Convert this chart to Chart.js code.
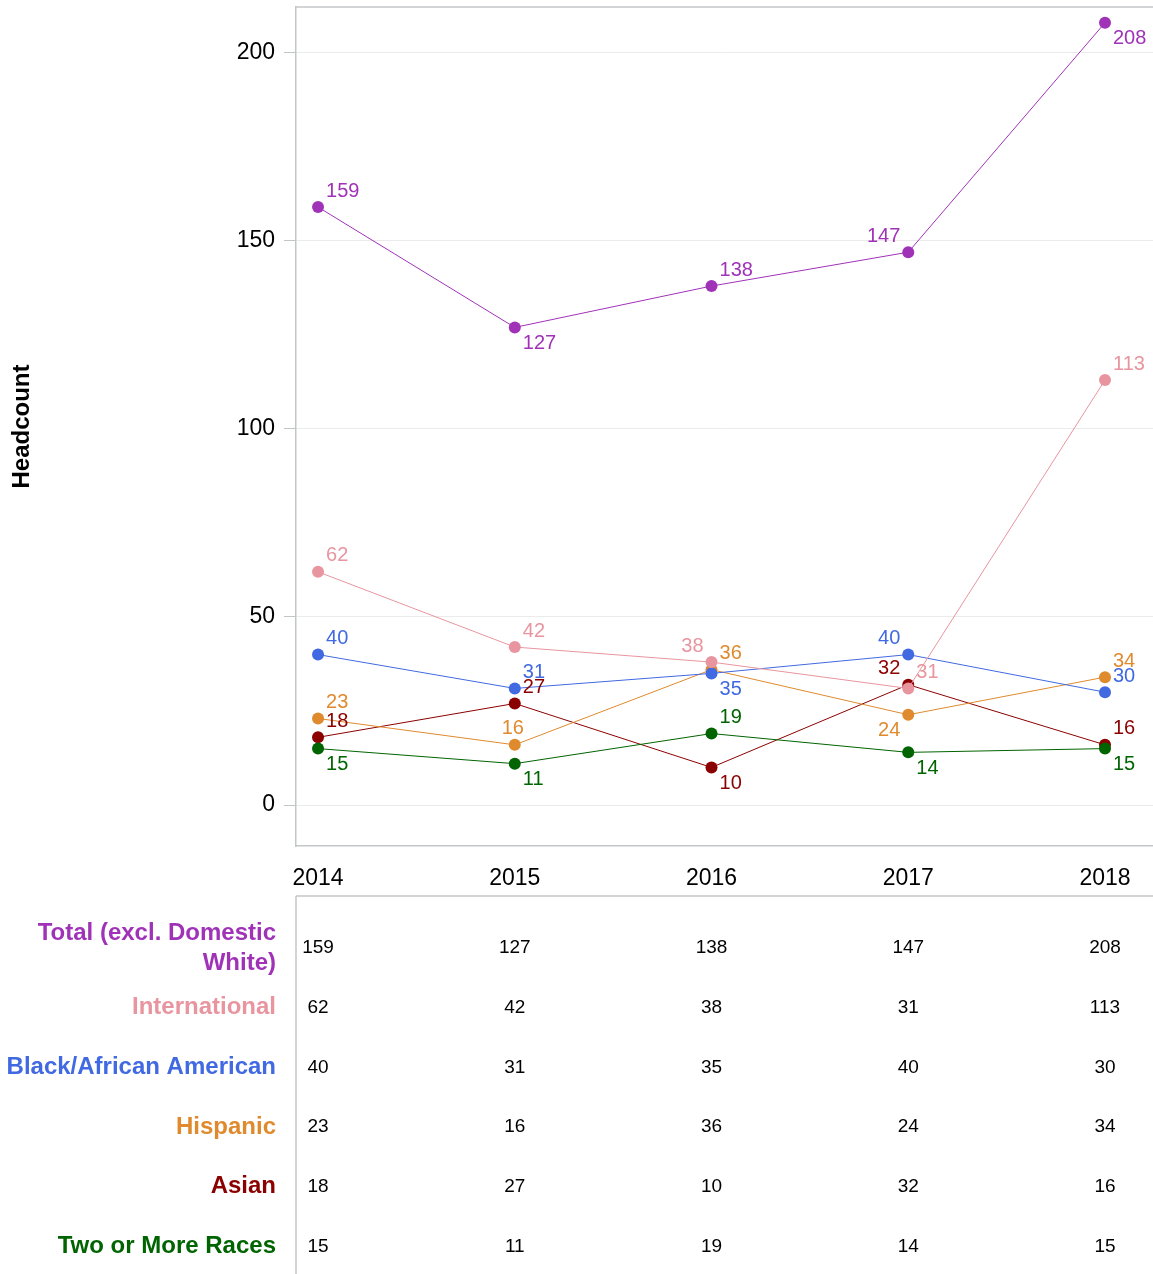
<!DOCTYPE html>
<html>
<head>
<meta charset="utf-8">
<script src="https://cdn.jsdelivr.net/npm/chart.js@4.4.1/dist/chart.umd.min.js"></script>
<style>
  html, body { margin: 0; padding: 0; background: #fff; }
  #wrap { width: 1153px; height: 1274px; }
</style>
</head>
<body>
<div id="wrap"><canvas id="chart" width="1153" height="1274"></canvas></div>
<script>
const years = [2014, 2015, 2016, 2017, 2018];
const seriesNames = ['Total (excl. Domestic White)', 'International', 'Black/African American', 'Hispanic', 'Asian', 'Two or More Races'];
const totalVals = [159, 127, 138, 147, 208];
const internationalVals = [62, 42, 38, 31, 113];
const blackVals = [40, 31, 35, 40, 30];
const hispanicVals = [23, 16, 36, 24, 34];
const asianVals = [18, 27, 10, 32, 16];
const twoMoreVals = [15, 11, 19, 14, 15];

const seriesVals = [totalVals, internationalVals, blackVals, hispanicVals, asianVals, twoMoreVals];
const colors = ['#a032b8', '#e8959f', '#4169e1', '#e08a2e', '#8b0000', '#006400'];
const drawOrder = [0, 1, 2, 3, 5, 4];

// where each value label sits next to its point (u = up, d = down, r/l = side)
const labelSpots = [
  ['ur', 'dr', 'ur', 'ul', 'dr'],
  ['ur', 'ur', 'ul', 'ur', 'ur'],
  ['ur', 'ur', 'dr', 'ul', 'ur'],
  ['ur', 'u', 'ur', 'dl', 'ur'],
  ['ur', 'ur', 'dr', 'ul', 'ur'],
  ['dr', 'dr', 'ur', 'dr', 'dr']
];

const FONT = "'Liberation Sans', Arial, sans-serif";
const axisGray = '#c3c6c8';

const datasets = seriesNames.map((name, i) => ({
  label: name,
  data: seriesVals[i].map((v, j) => ({ x: years[j], y: v })),
  borderColor: colors[i],
  backgroundColor: colors[i],
  pointBackgroundColor: colors[i],
  pointBorderWidth: 0,
  pointRadius: 6,
  borderWidth: 1,
  order: drawOrder[i]
}));

const valueLabels = {
  id: 'valueLabels',
  afterDatasetsDraw(chart) {
    const ctx = chart.ctx;
    ctx.save();
    ctx.font = '20px ' + FONT;
    ctx.textBaseline = 'middle';
    chart.data.datasets.forEach((ds, i) => {
      const meta = chart.getDatasetMeta(i);
      meta.data.forEach((pt, j) => {
        const spot = labelSpots[i][j];
        let x = pt.x, y = pt.y;
        if (spot[0] === 'u') y -= 16; else y += 16;
        if (spot[1] === 'r') { ctx.textAlign = 'left'; x += 8; }
        else if (spot[1] === 'l') { ctx.textAlign = 'right'; x -= 8; }
        else { ctx.textAlign = 'center'; x -= 2; }
        ctx.fillStyle = colors[i];
        ctx.fillText(String(seriesVals[i][j]), x, y);
      });
    });
    ctx.restore();
  }
};

function wrapText(ctx, text, maxW) {
  const words = text.split(' ');
  const lines = [];
  let cur = '';
  words.forEach(w => {
    const t = cur ? cur + ' ' + w : w;
    if (ctx.measureText(t).width > maxW && cur) { lines.push(cur); cur = w; }
    else cur = t;
  });
  lines.push(cur);
  return lines;
}

const dataTable = {
  id: 'dataTable',
  afterDraw(chart) {
    const ctx = chart.ctx;
    const xs = chart.scales.x;
    const area = chart.chartArea;
    const tableTop = 896;
    ctx.save();
    // frame lines
    ctx.strokeStyle = axisGray;
    ctx.lineWidth = 1.5;
    ctx.beginPath();
    ctx.moveTo(area.left, tableTop);
    ctx.lineTo(chart.width, tableTop);
    ctx.moveTo(area.left, tableTop);
    ctx.lineTo(area.left, chart.height);
    ctx.moveTo(area.left, area.top);
    ctx.lineTo(chart.width, area.top);
    ctx.stroke();

    ctx.textBaseline = 'middle';
    seriesNames.forEach((name, i) => {
      const cy = 948 + i * 59.7;
      ctx.font = 'bold 24px ' + FONT;
      ctx.fillStyle = colors[i];
      ctx.textAlign = 'right';
      const lines = wrapText(ctx, name, 272);
      lines.forEach((ln, k) => {
        ctx.fillText(ln, 276, cy + (k - (lines.length - 1) / 2) * 30);
      });
      ctx.font = '19px ' + FONT;
      ctx.fillStyle = '#000';
      ctx.textAlign = 'center';
      seriesVals[i].forEach((v, j) => {
        ctx.fillText(String(v), xs.getPixelForValue(years[j]), cy);
      });
    });
    ctx.restore();
  }
};

new Chart(document.getElementById('chart'), {
  type: 'line',
  data: { datasets },
  options: {
    responsive: false,
    devicePixelRatio: 1,
    animation: false,
    events: [],
    layout: { autoPadding: false, padding: { top: 7, right: 0, bottom: 0, left: 0 } },
    plugins: { legend: { display: false }, tooltip: { enabled: false } },
    scales: {
      x: {
        type: 'linear',
        min: 2013.888,
        max: 2018.244,
        afterFit(scale) {
          scale.height = 428;
          scale.paddingLeft = 0;
          scale.paddingRight = 0;
        },
        grid: { display: false, drawTicks: false },
        border: { display: true, color: axisGray, width: 1.5 },
        ticks: {
          stepSize: 1,
          includeBounds: false,
          autoSkip: false,
          maxRotation: 0,
          padding: 19,
          color: '#000',
          font: { family: FONT, size: 23 },
          callback: v => String(v)
        }
      },
      y: {
        min: -10.9,
        max: 212.2,
        afterFit(scale) {
          scale.width = 296;
          scale.paddingTop = 0;
          scale.paddingBottom = 0;
        },
        grid: { color: '#ebebeb', lineWidth: 1, tickColor: axisGray, tickLength: 12 },
        border: { display: true, color: axisGray, width: 1.5 },
        title: {
          display: true,
          text: 'Headcount',
          color: '#000',
          font: { family: FONT, size: 24, weight: 'bold' },
          padding: { top: 8, bottom: 0 }
        },
        ticks: {
          stepSize: 50,
          includeBounds: false,
          padding: 9,
          color: '#000',
          font: { family: FONT, size: 23 }
        }
      }
    }
  },
  plugins: [valueLabels, dataTable]
});
</script>
</body>
</html>
